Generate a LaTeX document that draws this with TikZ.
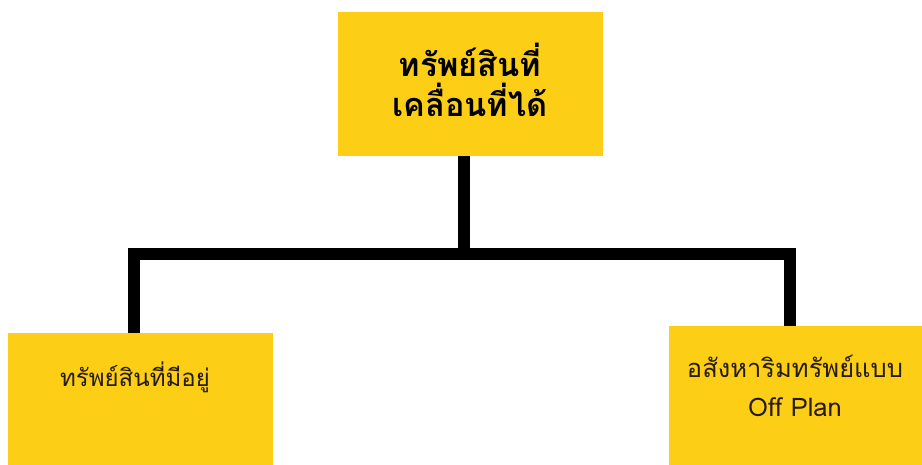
\documentclass[tikz,border=0pt]{standalone}
\usepackage{fontspec}
\newfontfamily\thaifont[Script=Thai]{Loma}
\definecolor{boxyellow}{RGB}{252,207,22}
\definecolor{txtdark}{RGB}{38,28,20}
\begin{document}
\begin{tikzpicture}[x=1pt,y=-1pt,
  box/.style={fill=boxyellow, draw=none, inner sep=0pt, outer sep=0pt, anchor=north west},
  conn/.style={line width=12pt, line join=miter, draw=black},
  toptxt/.style={font=\thaifont\bfseries\fontsize{32.5}{40}\selectfont, align=center, text=black},
  subtxt/.style={font=\thaifont\fontsize{24}{39}\selectfont, align=center, text=txtdark}]
\useasboundingbox (0,0) rectangle (922,465);
\node[box, minimum width=265pt, minimum height=144pt] (T) at (338,12) {};
\node[box, minimum width=265pt, minimum height=140pt] (L) at (8,333) {};
\node[box, minimum width=260pt, minimum height=145pt] (R) at (669,326) {};
\coordinate (J) at (464,254);
\coordinate (LJ) at (134,254);
\coordinate (RJ) at (790,254);
\draw[conn] (J |- T.south) -- (J);
\draw[conn] (LJ |- L.north) -- (LJ) -- (RJ) -- (RJ |- R.north);
\node[toptxt] (Tt) at (470,80) {ทรัพย์สินที่\\เคลื่อนที่ได้};
\node[subtxt] (Lt) at (135,377) {ทรัพย์สินที่มีอยู่};
\node[subtxt, font=\thaifont\fontsize{25.5}{39}\selectfont] (Rt) at (795,386) {อสังหาริมทรัพย์แบบ\\Off Plan};
\end{tikzpicture}
\end{document}
